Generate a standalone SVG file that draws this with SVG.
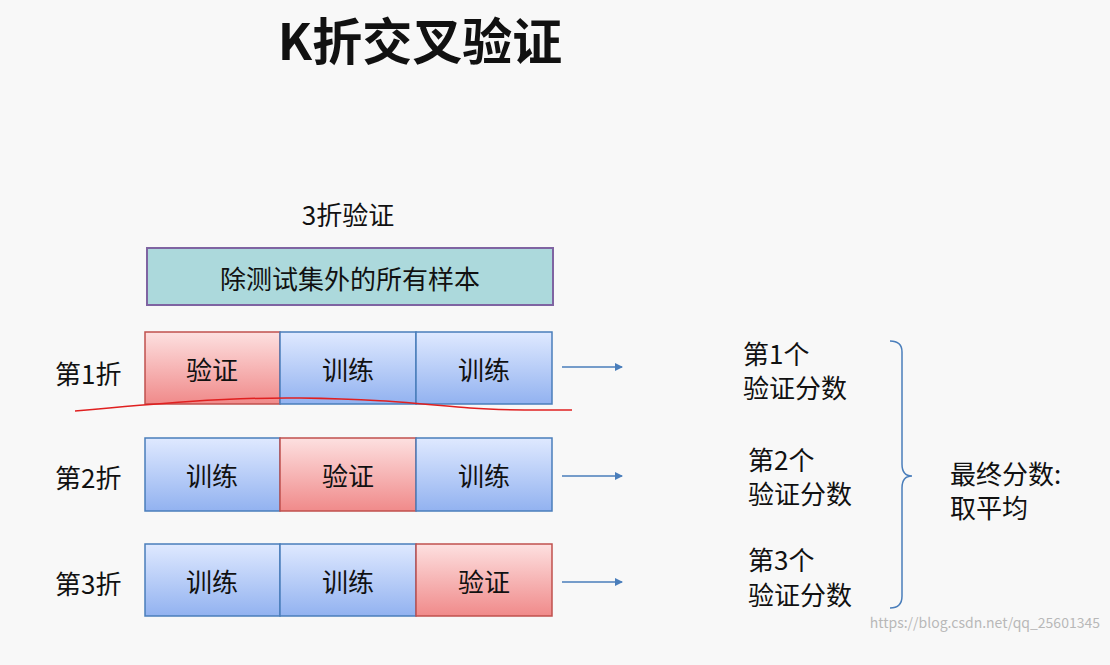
<svg xmlns="http://www.w3.org/2000/svg" width="1110" height="665" viewBox="0 0 1110 665">
<defs>
<linearGradient id="gr" x1="0" y1="0" x2="0" y2="1"><stop offset="0" stop-color="#fde0e0"/><stop offset="1" stop-color="#f08a8a"/></linearGradient>
<linearGradient id="gb" x1="0" y1="0" x2="0" y2="1"><stop offset="0" stop-color="#dfe9ff"/><stop offset="1" stop-color="#92b2f0"/></linearGradient>
<marker id="ah" markerWidth="8" markerHeight="8" refX="7" refY="4" orient="auto" markerUnits="userSpaceOnUse"><path d="M0,0 L8,4 L0,8 z" fill="#4a7ebb"/></marker>
<style>
text{font-family:"Noto Sans CJK SC","Noto Sans",sans-serif;fill:#111}
.t{font-size:26px;text-anchor:middle;dominant-baseline:central}
.l{font-size:26px}
.r{fill:url(#gr);stroke:#c0504d;stroke-width:1.5}
.b{fill:url(#gb);stroke:#4a7ebb;stroke-width:1.5}
.c{stroke:#4a7ebb;stroke-width:1.5;fill:none}
</style>
</defs>
<rect width="1110" height="665" fill="#f8f8f8"/>
<text x="420" y="38" font-size="50" font-weight="bold" text-anchor="middle" dominant-baseline="central">K折交叉验证</text>
<text x="348" y="213" class="t">3折验证</text>
<g id="all"><rect x="147" y="248" width="406" height="57" fill="#acd9dc" stroke="#7f64a2" stroke-width="2"/><text x="350" y="277" class="t">除测试集外的所有样本</text></g>
<g id="fold1"><text x="55" y="372" class="l" dominant-baseline="central">第1折</text>
<rect class="r" x="145" y="332" width="135" height="72"/><text class="t" x="212" y="368">验证</text>
<rect class="b" x="280" y="332" width="136" height="72"/><text class="t" x="348" y="368">训练</text>
<rect class="b" x="416" y="332" width="136" height="72"/><text class="t" x="484" y="368">训练</text></g>
<g id="fold2"><text x="55" y="476" class="l" dominant-baseline="central">第2折</text>
<rect class="b" x="145" y="438" width="135" height="73"/><text class="t" x="212" y="474">训练</text>
<rect class="r" x="280" y="438" width="136" height="73"/><text class="t" x="348" y="474">验证</text>
<rect class="b" x="416" y="438" width="136" height="73"/><text class="t" x="484" y="474">训练</text></g>
<g id="fold3"><text x="55" y="582" class="l" dominant-baseline="central">第3折</text>
<rect class="b" x="145" y="544" width="135" height="72"/><text class="t" x="212" y="580">训练</text>
<rect class="b" x="280" y="544" width="136" height="72"/><text class="t" x="348" y="580">训练</text>
<rect class="r" x="416" y="544" width="136" height="72"/><text class="t" x="484" y="580">验证</text></g>
<g id="scores" class="l">
<text x="743" y="352" class="l" dominant-baseline="central">第1个</text><text x="743" y="386" class="l" dominant-baseline="central">验证分数</text>
<text x="748" y="458" class="l" dominant-baseline="central">第2个</text><text x="748" y="492" class="l" dominant-baseline="central">验证分数</text>
<text x="748" y="558" class="l" dominant-baseline="central">第3个</text><text x="748" y="593" class="l" dominant-baseline="central">验证分数</text>
<text x="950" y="472" class="l" dominant-baseline="central">最终分数:</text><text x="950" y="506" class="l" dominant-baseline="central">取平均</text>
</g>
<g id="connectors">
<line class="c" x1="562" y1="367" x2="622" y2="367" marker-end="url(#ah)"/>
<line class="c" x1="562" y1="476" x2="622" y2="476" marker-end="url(#ah)"/>
<line class="c" x1="562" y1="582" x2="622" y2="582" marker-end="url(#ah)"/>
<path class="c" d="M890,341 Q902,341 902,352 L902,464 Q902,476 912,476 Q902,476 902,488 L902,596 Q902,608 890,608"/>
</g>
<path d="M75,411 C150,404 230,397 300,398 C380,399 420,404 470,408 C510,411 545,410 572,410" fill="none" stroke="#e02020" stroke-width="1.5"/>
<text x="1100" y="628" font-size="14" fill="#b8b8b8" style="fill:#b8b8b8" text-anchor="end" font-family="Liberation Sans,sans-serif">https://blog.csdn.net/qq_25601345</text>
</svg>
